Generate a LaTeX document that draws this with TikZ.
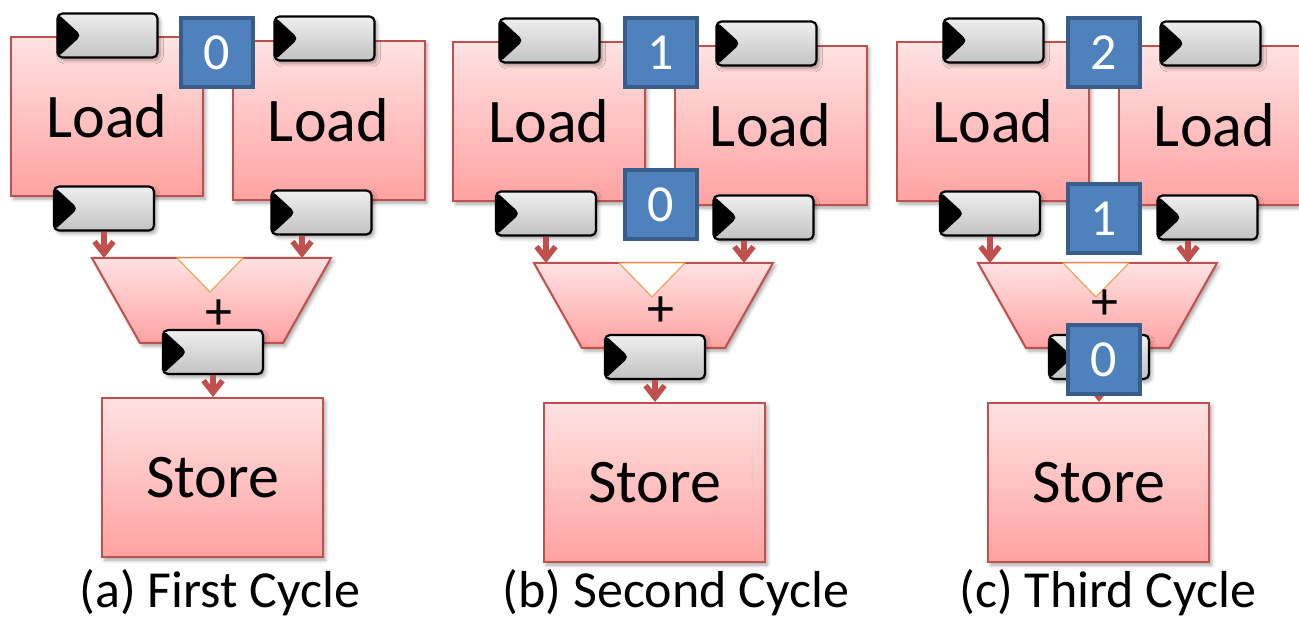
\documentclass[tikz,border=0pt]{standalone}
\usepackage{fontspec}
\setmainfont{Carlito}
\usepackage{tikz}
\usetikzlibrary{arrows.meta}
\usetikzlibrary{calc,shadows.blur,positioning}

\definecolor{pinktop}{HTML}{FFE2E2}
\definecolor{pinkbot}{HTML}{FFA2A2}
\definecolor{edgered}{HTML}{C0504D}
\definecolor{regtop}{HTML}{EFEFEF}
\definecolor{regbot}{HTML}{C2C2C2}
\definecolor{tokfill}{HTML}{4F81BD}
\definecolor{tokedge}{HTML}{385D8A}
\definecolor{notchline}{HTML}{F79646}

\begin{document}
\begin{tikzpicture}[x=1pt, y=1pt,
    soft/.style = {blur shadow={shadow xshift=2.5pt, shadow yshift=-3pt,
            shadow blur radius=3.5pt, shadow opacity=35}},
    unit/.style = {rectangle, draw=edgered, line width=2pt, top color=pinktop,
            bottom color=pinkbot, inner sep=0pt, font=\fontsize{62}{70}\selectfont},
    load/.style = {unit, soft, minimum width=192pt, minimum height=159pt},
    store/.style = {unit, soft, minimum width=221pt, minimum height=159pt},
    aluface/.style = {draw=edgered, line width=2pt, top color=pinktop,
            bottom color=pinkbot, soft},
    reg/.style = {rectangle, rounded corners=5pt, draw=black, line width=2.2pt,
            top color=regtop, bottom color=regbot, minimum width=100pt,
            minimum height=44pt, inner sep=0pt, soft,
            path picture={\fill[black] (path picture bounding box.north west)
                -- ([xshift=24pt]path picture bounding box.west)
                -- (path picture bounding box.south west) -- cycle;}},
    notch/.style = {fill=white, draw=notchline, line width=1pt},
    plus/.style = {font=\fontsize{54}{60}\selectfont, inner sep=0pt},
    token/.style = {rectangle, fill=tokfill, draw=tokedge, line width=4pt,
            minimum width=72pt, minimum height=69pt, inner sep=0pt, text=white,
            font=\fontsize{52}{60}\selectfont},
    flow/.style = {draw=edgered, line width=6pt,
            -{Straight Barb[length=12pt, width=19pt, line width=5.5pt]}},
    caption/.style = {font=\fontsize{52}{60}\selectfont, anchor=base, inner sep=0pt}]

    \useasboundingbox (0,0) rectangle (1299,-620);

    \foreach \p/\dx/\dy/\py/\cx/\lbl in {a/0/0/315/220/{(a) First Cycle},
                                        b/442/5/307/676/{(b) Second Cycle},
                                        c/886/5/300/1108/{(c) Third Cycle}} {
        \begin{scope}[shift={(\dx,-\dy)}]
            \node [load] (ldA\p) at (107,-116.5) {Load};
            \node [load] (ldB\p) at (328.5,-120.5) {Load};
            \node [reg] (inA\p) at (107.5,-35.5) {};
            \node [reg] (inB\p) at (324.5,-38.5) {};
            \node [reg] (outA\p) at (104,-208.5) {};
            \node [reg] (outB\p) at (321.5,-212.5) {};

            % adder body
            \draw [aluface] (92,-258) coordinate (aluNW\p) -- (331,-258) coordinate (aluNE\p)
                -- (283,-343) -- (140,-343) -- cycle;
            \coordinate (alu\p) at ($(aluNW\p)!0.5!(aluNE\p)$);
            \draw [notch] ([xshift=-34.5pt]alu\p) -- ([xshift=-1.5pt,yshift=-34pt]alu\p)
                -- ([xshift=31.5pt]alu\p) -- cycle;
            \node [plus] (op\p) at (219,-\py) {+};
            \coordinate (aluInA\p) at ([xshift=-107.5pt]alu\p);
            \coordinate (aluInB\p) at ([xshift=90.5pt]alu\p);
            \draw [flow] (outA\p.south) -- (aluInA\p);
            \draw [flow] (outB\p.south -| aluInB\p) -- (aluInB\p);

            \node [reg] (sum\p) at (213,-352) {};
            \node [store] (st\p) at (212.5,-477.5) {Store};
            \draw [flow] (sum\p.south) -- (sum\p.south |- st\p.north);
        \end{scope}
        \node [caption] (cap\p) at (\cx,-607) {\lbl};
    }

    \node [token] (tokA0) at (217,-52.5) {0};
    \node [token] (tokB1) at (660.5,-52.5) {1};
    \node [token] (tokB0) at (660.5,-204.5) {0};
    \node [token] (tokC2) at (1104,-52.5) {2};
    \node [token] (tokC1) at (1104,-218.5) {1};
    \node [token] (tokC0) at (1104,-359.5) {0};
\end{tikzpicture}
\end{document}
